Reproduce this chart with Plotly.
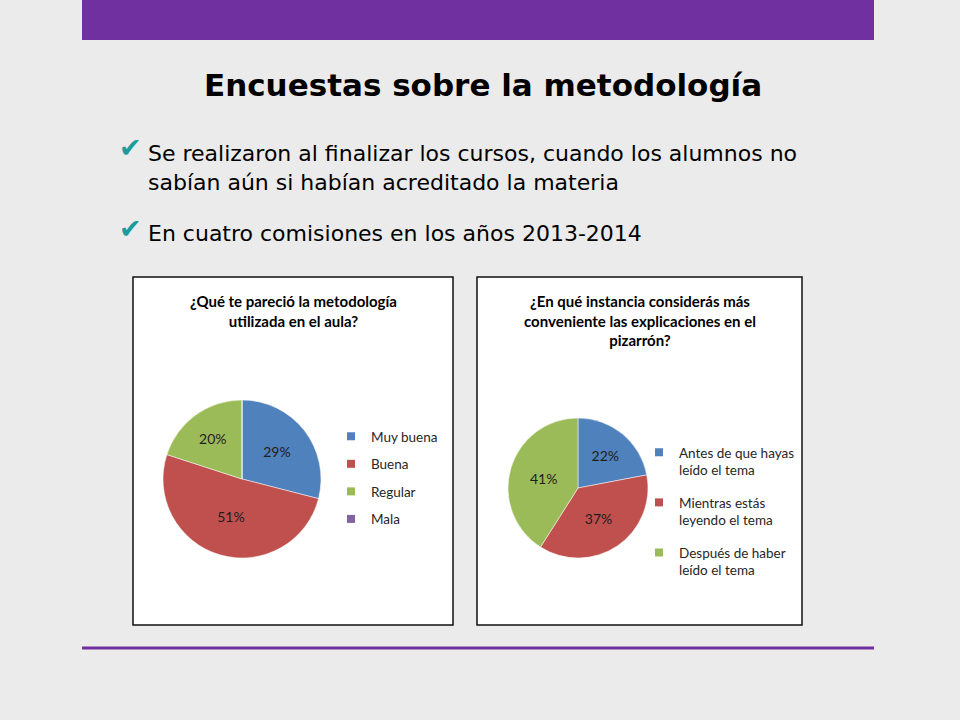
import plotly.graph_objects as go

W, H = 960, 720

# ---- data ----
slide_title = "Encuestas sobre la metodología"
bullets = [
    "Se realizaron al finalizar los cursos, cuando los alumnos no<br>sabían aún si habían acreditado la materia",
    "En cuatro comisiones en los años 2013-2014",
]

q1_title = "¿Qué te pareció la metodología<br>utilizada en el aula?"
q1_labels = ["Muy buena", "Buena", "Regular", "Mala"]
q1_values = [29, 51, 20, 0]
q1_colors = ["#4f81bd", "#c0504d", "#9bbb59", "#8064a2"]

q2_title = "¿En qué instancia considerás más<br>conveniente las explicaciones en el<br>pizarrón?"
q2_labels = ["Antes de que hayas<br>leído el tema", "Mientras estás<br>leyendo el tema", "Después de haber<br>leído el tema"]
q2_values = [22, 37, 41]
q2_colors = ["#4f81bd", "#c0504d", "#9bbb59"]


def px(x):
    return x / W


def py(y):
    return 1 - y / H


SLIDE_FONT = "Comic Sans MS, DejaVu Sans, sans-serif"
CHART_FONT = "Lato, Open Sans, sans-serif"

fig = go.Figure()

# pies
fig.add_trace(go.Pie(
    labels=q1_labels, values=q1_values, sort=False, direction="clockwise", rotation=0,
    marker=dict(colors=q1_colors, line=dict(color="white", width=0.5)),
    textinfo="percent", texttemplate="%{percent:.0%}", textposition="inside",
    insidetextfont=dict(family=CHART_FONT, size=14, color="#1e1e1e"),
    insidetextorientation="horizontal",
    domain=dict(x=[px(163), px(321)], y=[py(558), py(400)]),
    showlegend=False, hoverinfo="label+percent",
))
fig.add_trace(go.Pie(
    labels=q2_labels, values=q2_values, sort=False, direction="clockwise", rotation=0,
    marker=dict(colors=q2_colors, line=dict(color="white", width=0.5)),
    textinfo="percent", texttemplate="%{percent:.0%}", textposition="inside",
    insidetextfont=dict(family=CHART_FONT, size=14, color="#1e1e1e"),
    insidetextorientation="horizontal",
    domain=dict(x=[px(508), px(648)], y=[py(558), py(418)]),
    showlegend=False, hoverinfo="label+percent",
))

# legend entries (one group per entry so spacing can be matched)
for i, (lab, col) in enumerate(zip(q1_labels, q1_colors)):
    fig.add_trace(go.Scatter(
        x=[None], y=[None], mode="markers", name=lab,
        marker=dict(symbol="square", size=8, color=col),
        legend="legend", legendgroup=f"a{i}", showlegend=True,
    ))
for i, (lab, col) in enumerate(zip(q2_labels, q2_colors)):
    fig.add_trace(go.Scatter(
        x=[None], y=[None], mode="markers", name=lab,
        marker=dict(symbol="square", size=8, color=col),
        legend="legend2", legendgroup=f"b{i}", showlegend=True,
    ))

shapes = [
    # top purple bar
    dict(type="rect", xref="paper", yref="paper", x0=px(82), x1=px(874), y0=py(40), y1=py(0),
         fillcolor="#7030a0", line=dict(width=0), layer="below"),
    # chart boxes
    dict(type="rect", xref="paper", yref="paper", x0=px(133), x1=px(453), y0=py(625), y1=py(277),
         fillcolor="white", line=dict(color="#111111", width=1.5), layer="below"),
    dict(type="rect", xref="paper", yref="paper", x0=px(477), x1=px(802), y0=py(625), y1=py(277),
         fillcolor="white", line=dict(color="#111111", width=1.5), layer="below"),
    # bottom purple line
    dict(type="line", xref="paper", yref="paper", x0=px(82), x1=px(874), y0=py(648), y1=py(648),
         line=dict(color="#7030a0", width=3), layer="below"),
]

annotations = [
    dict(text="<b>" + slide_title + "</b>", x=px(483), y=py(85), xref="paper", yref="paper",
         xanchor="center", yanchor="middle", showarrow=False,
         font=dict(family=SLIDE_FONT, size=31, color="#000000")),
    dict(text=bullets[0], x=px(146), y=py(168), xref="paper", yref="paper",
         xanchor="left", yanchor="middle", align="left", showarrow=False,
         font=dict(family=SLIDE_FONT, size=22, color="#000000")),
    dict(text=bullets[1], x=px(146), y=py(234), xref="paper", yref="paper",
         xanchor="left", yanchor="middle", align="left", showarrow=False,
         font=dict(family=SLIDE_FONT, size=22, color="#000000")),
    dict(text="✔", x=px(130), y=py(148), xref="paper", yref="paper",
         xanchor="center", yanchor="middle", showarrow=False,
         font=dict(family="DejaVu Sans", size=27, color="#1a9c9c")),
    dict(text="✔", x=px(130), y=py(228), xref="paper", yref="paper",
         xanchor="center", yanchor="middle", showarrow=False,
         font=dict(family="DejaVu Sans", size=27, color="#1a9c9c")),
    dict(text="<b>" + q1_title + "</b>", x=px(293), y=py(311), xref="paper", yref="paper",
         xanchor="center", yanchor="middle", showarrow=False,
         font=dict(family=CHART_FONT, size=15, color="#000000")),
    dict(text="<b>" + q2_title + "</b>", x=px(640), y=py(320), xref="paper", yref="paper",
         xanchor="center", yanchor="middle", showarrow=False,
         font=dict(family=CHART_FONT, size=15, color="#000000")),
]

fig.update_layout(
    width=W, height=H,
    margin=dict(l=0, r=0, t=0, b=0),
    paper_bgcolor="#ebebeb", plot_bgcolor="rgba(0,0,0,0)",
    xaxis=dict(visible=False), yaxis=dict(visible=False),
    shapes=shapes, annotations=annotations,
    legend=dict(x=px(331), y=py(421), xanchor="left", yanchor="top",
                bgcolor="rgba(0,0,0,0)", borderwidth=0, tracegroupgap=7,
                font=dict(family=CHART_FONT, size=13.5, color="#262626")),
    legend2=dict(x=px(639), y=py(437), xanchor="left", yanchor="top",
                 bgcolor="rgba(0,0,0,0)", borderwidth=0, tracegroupgap=12, valign="top",
                 font=dict(family=CHART_FONT, size=13.5, color="#262626")),
)

fig.write_html("out.html", config={"displayModeBar": False},
               post_script="document.body.style.margin='0';document.body.style.overflow='hidden';")
